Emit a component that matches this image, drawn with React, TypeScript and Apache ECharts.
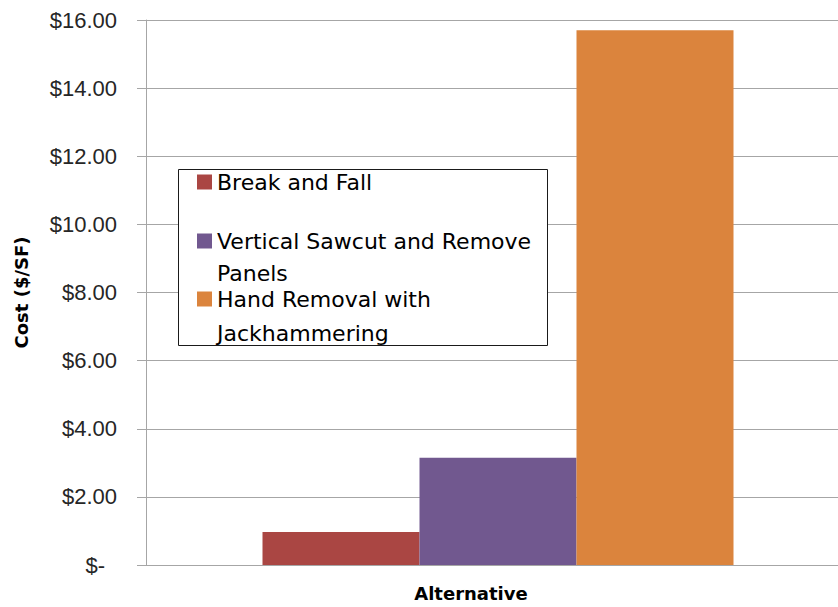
import React, { useEffect, useRef } from "react";
import * as echarts from "echarts";

const categories = ["Alternative"];
const seriesNames = ["Break and Fall", "Vertical Sawcut and Remove Panels", "Hand Removal with Jackhammering"];
const legendLabels = ["Break and Fall", "\nVertical Sawcut and Remove\nPanels", "\nHand Removal with\nJackhammering"];
const seriesValues = [0.97, 3.15, 15.7];
const seriesColors = ["#AA4643", "#71588F", "#DB843D"];
const yTicks = { min: 0, max: 16, interval: 2 };

export default function App() {
  const ref = useRef<HTMLDivElement>(null);
  useEffect(() => {
    if (!ref.current) return;
    const chart = echarts.init(ref.current, undefined, { renderer: "svg" });
    const legendFont = { fontFamily: "DejaVu Sans", fontSize: 22, color: "#000" };
    const legendTops = [171, 193, 248];
    const legendLH = [22, 32, 34];
    chart.setOption({
      animation: false,
      backgroundColor: "#fff",
      grid: { left: 146, top: 20, right: 0, bottom: 40.5, containLabel: false },
      graphic: [
        {
          type: "rect",
          z: 5,
          shape: { x: 178.5, y: 169.5, width: 369, height: 176 },
          style: { fill: "#fff", stroke: "#1a1a1a", lineWidth: 1 },
        },
      ],
      legend: seriesNames.map((n, i) => ({
        data: [n],
        left: 197,
        top: legendTops[i],
        padding: 0,
        z: 6,
        icon: "rect",
        itemWidth: 15,
        itemHeight: 15,
        selectedMode: false,
        formatter: () => legendLabels[i],
        textStyle: {
          ...legendFont,
          lineHeight: legendLH[i],
        },
      })),
      xAxis: {
        type: "category",
        data: categories,
        axisLabel: { show: false },
        axisTick: { show: false },
        axisLine: { lineStyle: { color: "#a6a6a6", width: 1 } },
        name: "Alternative",
        nameLocation: "middle",
        nameGap: 19,
        nameTextStyle: {
          fontFamily: "DejaVu Sans",
          fontWeight: "bold",
          fontSize: 18,
          color: "#000",
          padding: [0, 54, 0, 0],
        },
      },
      yAxis: {
        type: "value",
        min: yTicks.min,
        max: yTicks.max,
        interval: yTicks.interval,
        axisLine: { show: true, lineStyle: { color: "#a6a6a6", width: 1 } },
        axisTick: { show: true, length: 9, lineStyle: { color: "#a6a6a6" } },
        splitLine: { lineStyle: { color: "#a6a6a6", width: 1 } },
        axisLabel: {
          margin: 29,
          fontFamily: "Liberation Sans",
          fontSize: 22,
          color: "#262626",
          formatter: (v: number) => (v === 0 ? "{z|$-}" : "$" + v.toFixed(2)),
          rich: {
            z: { fontFamily: "Liberation Sans", fontSize: 22, color: "#262626", padding: [0, 12, 0, 0] },
          },
        },
        name: "Cost ($/SF)",
        nameLocation: "middle",
        nameGap: 116,
        nameTextStyle: {
          fontFamily: "DejaVu Sans",
          fontWeight: "bold",
          fontSize: 18,
          color: "#000",
        },
      },
      series: seriesNames.map((n, i) => ({
        type: "bar",
        name: n,
        data: [seriesValues[i]],
        barWidth: 157,
        barGap: "0%",
        itemStyle: { color: seriesColors[i] },
      })),
    });
    return () => chart.dispose();
  }, []);
  return (
    <div style={{ width: 838, height: 607, position: "absolute", left: 0, top: 0, overflow: "hidden" }}>
      <div ref={ref} style={{ width: 850, height: 607 }} />
    </div>
  );
}
